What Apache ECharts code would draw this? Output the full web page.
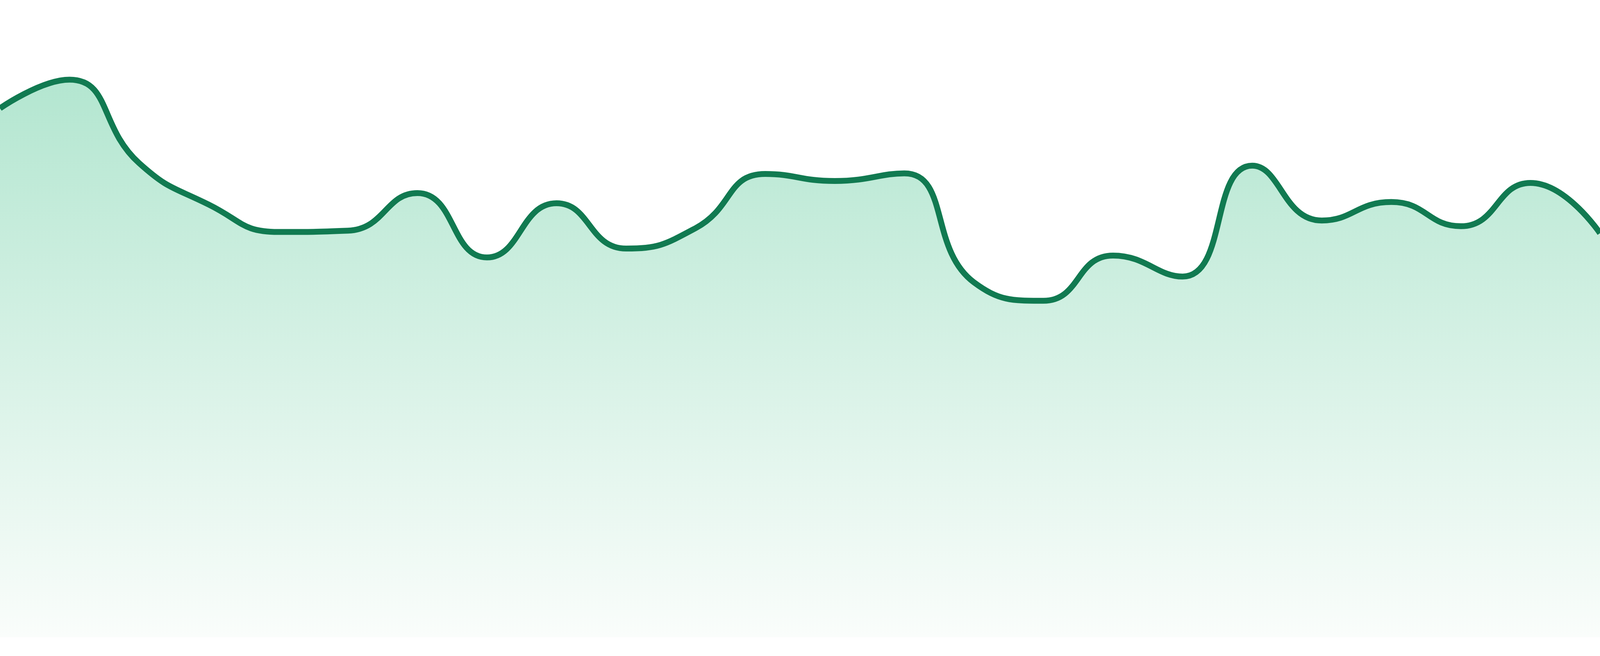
<!DOCTYPE html>
<html>
<head>
<meta charset="utf-8">
<style>
  html, body { margin: 0; padding: 0; width: 100%; height: 100%; overflow: hidden; background: #fff; }
  #chart { width: 100%; height: 100%; }
</style>
<script src="https://cdn.jsdelivr.net/npm/echarts@6/dist/echarts.min.js"></script>
</head>
<body>
<div id="chart"></div>
<script>
// categories (hidden axis)
var days = ['1', '2', '3', '4', '5', '6', '7', '8', '9', '10', '11', '12',
            '13', '14', '15', '16', '17', '18', '19', '20', '21', '22', '23', '24'];
// series values (axis 0..100)
var values = [83.0, 87.5, 74.4, 67.9, 63.6, 63.8, 69.7, 59.6, 68.1, 61.0, 64.2, 72.7,
              71.6, 72.8, 55.7, 52.8, 59.9, 56.6, 74.0, 65.4, 68.3, 64.5, 71.3, 63.4];

var myChart = echarts.init(document.getElementById('chart'));
var option = {
  animation: false,
  grid: { left: 0, right: 0, top: 0, bottom: '2.857%' },
  xAxis: {
    type: 'category',
    boundaryGap: false,
    data: days,
    show: false
  },
  yAxis: {
    type: 'value',
    min: 0,
    max: 100,
    show: false
  },
  series: [{
    type: 'line',
    data: values,
    smooth: true,
    showSymbol: false,
    lineStyle: { color: '#117a51', width: 15 },
    areaStyle: {
      opacity: 1,
      color: {
        type: 'linear', x: 0, y: 0, x2: 0, y2: 1,
        colorStops: [
          { offset: 0, color: '#b3e6d0' },
          { offset: 1, color: '#fafdfb' }
        ]
      }
    }
  }]
};
myChart.setOption(option);
window.addEventListener('resize', function () { myChart.resize(); });
</script>
</body>
</html>
